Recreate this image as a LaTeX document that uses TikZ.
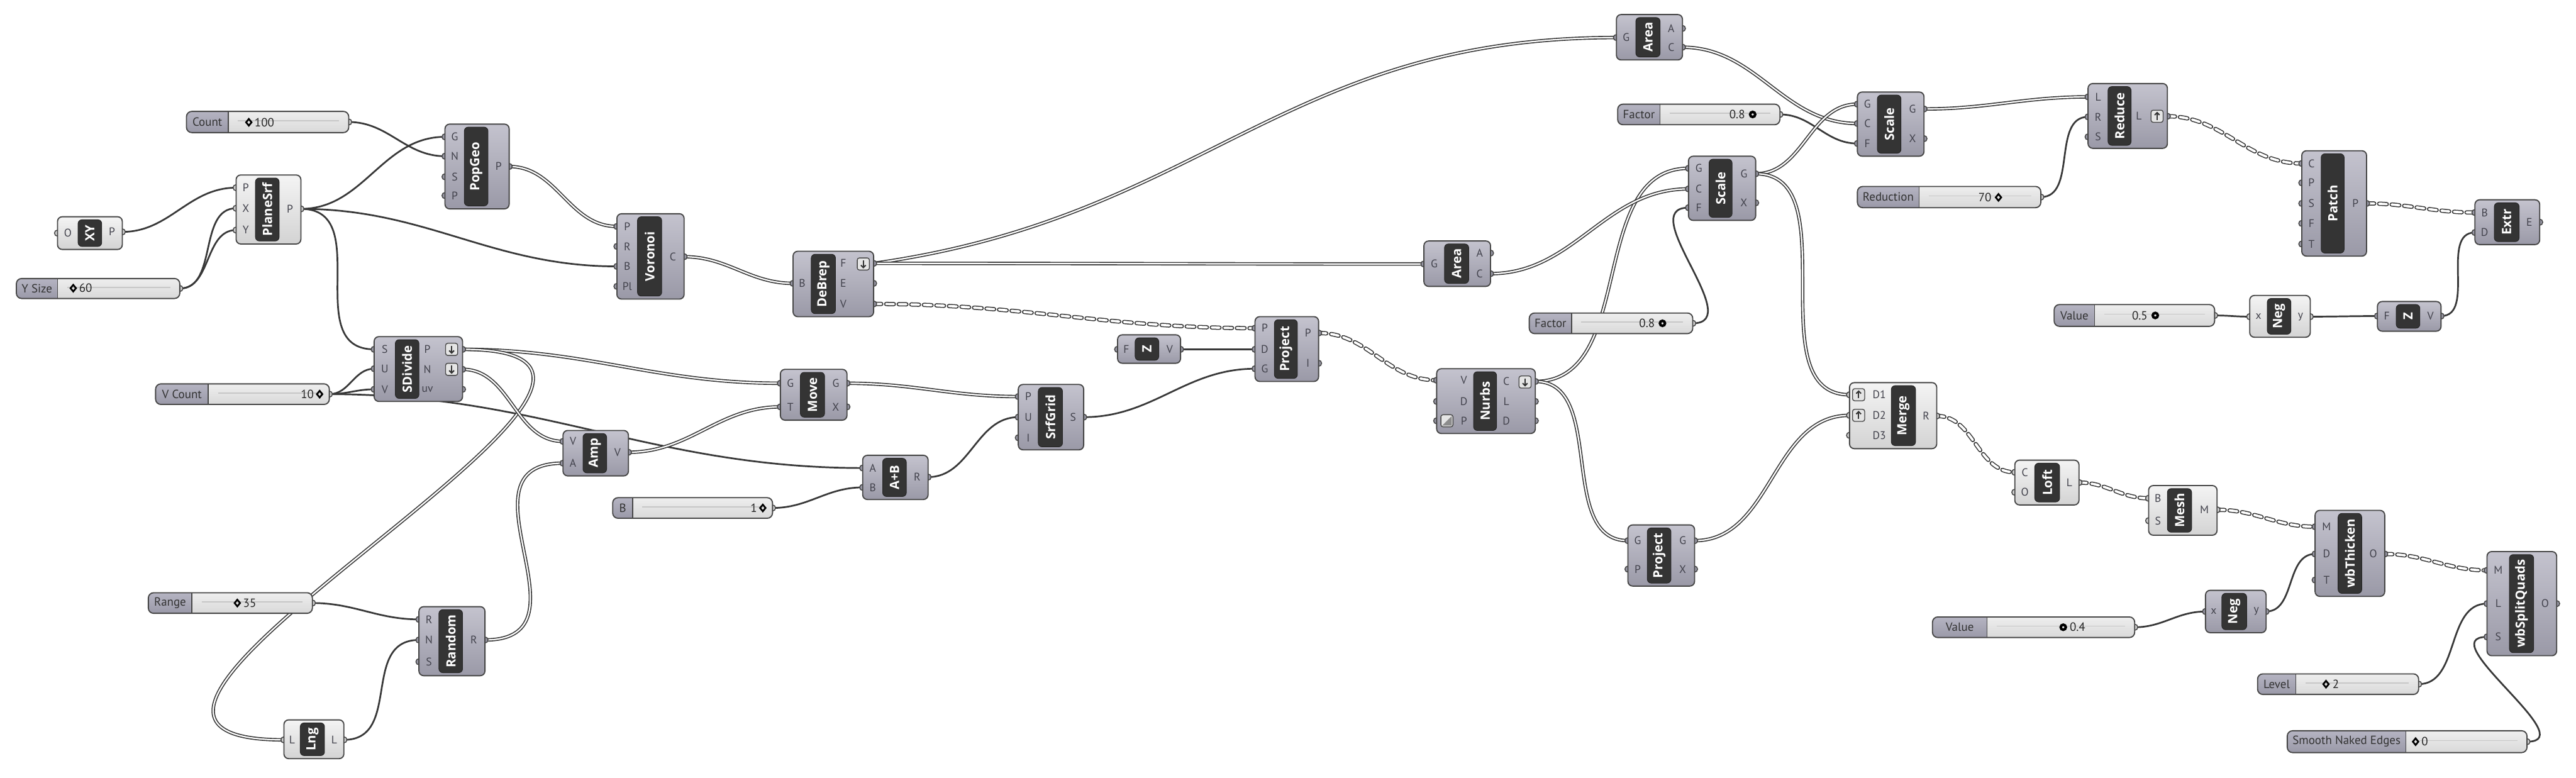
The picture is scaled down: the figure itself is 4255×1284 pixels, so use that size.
\documentclass[tikz,border=0pt]{standalone}
\usepackage{fontspec}
\setmainfont{PT Sans}
\newfontfamily\ghtitlefont{Open Sans}
\usetikzlibrary{fit}
\pgfdeclarelayer{bg}
\pgfdeclarelayer{wires}
\pgfdeclarelayer{stubs}
\pgfsetlayers{bg,wires,stubs,main}
\definecolor{wirecol}{HTML}{383838}
\definecolor{edgecol}{HTML}{474747}
\definecolor{darktop}{HTML}{C4C3CE}
\definecolor{darkbot}{HTML}{9A99A7}
\definecolor{lighttop}{HTML}{F4F4F4}
\definecolor{lightbot}{HTML}{D3D3D3}
\definecolor{barcol}{HTML}{343434}
\definecolor{portcol}{HTML}{42424C}
\definecolor{slabtop}{HTML}{B5B4C2}
\definecolor{slabbot}{HTML}{9A99A8}
\definecolor{svaltop}{HTML}{EEEEEE}
\definecolor{svalbot}{HTML}{D9D9D9}
\tikzset{
  body/.style={draw=edgecol, line width=0.55pt, rounded corners=2.2pt, inner sep=0pt, outer sep=0pt},
  darkbody/.style={body, top color=darktop, bottom color=darkbot},
  lightbody/.style={body, top color=lighttop, bottom color=lightbot},
  barbox/.style={fill=barcol, draw=black!85, line width=0.3pt, rounded corners=1.8pt, inner sep=0pt, outer sep=0pt},
  bartext/.style={text=white, font=\ghtitlefont\bfseries\fontsize{6}{6}\selectfont, rotate=90, inner sep=0pt},
  portlabel/.style={text=portcol, font=\fontsize{5.2}{5.5}\selectfont, inner sep=0pt},
  stubdark/.style={draw=edgecol, fill=darkbot, line width=0.45pt},
  stublight/.style={draw=edgecol, fill=lightbot, line width=0.45pt},
  wire/.style={draw=wirecol, line width=0.8pt},
  listwire/.style={draw=wirecol, line width=0.48pt, double=white, double distance=0.65pt},
  treewire/.style={draw=wirecol, line width=0.45pt, double=white, double distance=1.1pt, dash pattern=on 3.6pt off 2.3pt, line cap=round},
  sliderframe/.style={draw=edgecol, line width=0.55pt, rounded corners=2.5pt, inner sep=0pt, outer sep=0pt},
  slabel/.style={text=black!80, font=\fontsize{5.6}{6}\selectfont, inner sep=0pt},
  sval/.style={text=black!85, font=\fontsize{5.6}{6}\selectfont, inner sep=0pt},
  gripline/.style={draw=black, line width=0.8pt},
  iconbox/.style={draw=edgecol, line width=0.4pt, fill=white!90!black, rounded corners=1pt, minimum size=0.2cm, inner sep=0pt},
  iconarrow/.style={draw=black!80, line width=0.6pt},
}
% component: [style]{name}{x1}{y1}{x2}{y2}{barx1}{barx2}{title}
\newcommand\ghcomp[9][dark]{%
  \def\cn{#2}\def\cxl{#3}\def\cxr{#5}\def\cbl{#7}\def\cbr{#8}%
  \tikzset{curstub/.style={stub#1}}%
  \node[#1body, fit={(#3,#4) (#5,#6)}] (#2) {};%
  \node[barbox, fit={(#7,#4+5) (#8,#6-5)}] (#2-bar) {};%
  \node[bartext] (#2-title) at (#2-bar.center) {#9};%
}
\newcommand\inp[4][]{%
  \coordinate (\cn-#2) at (\cxl,#3);%
  \begin{pgfonlayer}{stubs}\draw[curstub] (\cxl,#3) circle[radius=0.05cm];\end{pgfonlayer}%
  \ifx\relax#1\relax\node[portlabel] (\cn-#2-lab) at ({(\cxl+\cbl)/2},#3) {#4};%
  \else\node[portlabel] (\cn-#2-lab) at (#1,#3) {#4};\fi}
\newcommand\outp[4][]{%
  \coordinate (\cn-#2) at (\cxr,#3);%
  \begin{pgfonlayer}{stubs}\draw[curstub] (\cxr,#3) circle[radius=0.05cm];\end{pgfonlayer}%
  \ifx\relax#1\relax\node[portlabel] (\cn-#2-lab) at ({(\cxr+\cbr)/2},#3) {#4};%
  \else\node[portlabel] (\cn-#2-lab) at (#1,#3) {#4};\fi}
% slider: {name}{x1}{y1}{x2}{y2}{split}{label}
\newcommand\ghslider[7]{%
  \begin{scope}
    \clip[rounded corners=2.5pt] (#2,#3) rectangle (#4,#5);
    \shade[top color=svaltop, bottom color=svalbot] (#2,#3) rectangle (#4,#5);
    \shade[top color=slabtop, bottom color=slabbot] (#2,#3) rectangle (#6,#5);
    \draw[black!22, line width=0.45pt] (#6+16,{(#3+#5)/2-2}) -- (#4-16,{(#3+#5)/2-2});
  \end{scope}
  \draw[edgecol, line width=0.4pt] (#6,#3) -- (#6,#5);
  \node[sliderframe, fit={(#2,#3) (#4,#5)}] (#1) {};
  \node[slabel] (#1-lab) at ({(#2+#6)/2},{(#3+#5)/2}) {#7};
  \coordinate (#1-o) at (#4,{(#3+#5)/2});
  \begin{pgfonlayer}{stubs}\draw[stublight] (#4,{(#3+#5)/2}) circle[radius=0.05cm];\end{pgfonlayer}%
}
\newcommand\gripd[2]{\draw[gripline] (#1-4.5,#2) -- (#1,#2-5.5) -- (#1+4.5,#2) -- (#1,#2+5.5) -- cycle;}
\newcommand\gripo[2]{\draw[gripline, line width=1.2pt] (#1,#2) circle[radius=0.042cm];}
\newcommand\icondown[3]{\node[iconbox] (#1) at (#2,#3) {};
  \draw[iconarrow] (#2,#3-6) -- (#2,#3+6); \draw[iconarrow] (#2-4,#3+2) -- (#2,#3+6) -- (#2+4,#3+2);}
\newcommand\iconup[3]{\node[iconbox] (#1) at (#2,#3) {};
  \draw[iconarrow] (#2,#3+6) -- (#2,#3-6); \draw[iconarrow] (#2-4,#3-2) -- (#2,#3-6) -- (#2+4,#3-2);}
\newcommand\icondiag[3]{\node[iconbox] (#1) at (#2,#3) {};
  \fill[black!45] (#2-8,#3+8) -- (#2+8,#3-8) -- (#2+8,#3+8) -- cycle;}
\begin{document}
\begin{tikzpicture}[x=0.01cm,y=-0.01cm]
\begin{pgfonlayer}{bg}
\fill[white] (0,0) rectangle (4255,1284);
\end{pgfonlayer}
\useasboundingbox (0,0) rectangle (4255,1284);

% ---------- sliders ----------
\ghslider{count}{308}{184}{576}{219}{377}{Count}
\gripd{411}{202}\node[sval,anchor=west] (count-val) at (420,202) {100};
\ghslider{ysize}{27}{460}{297}{493}{95}{Y Size}
\gripd{121}{476}\node[sval,anchor=west] (ysize-val) at (130,476) {60};
\ghslider{vcount}{257}{634}{544}{668}{344}{V Count}
\node[sval,anchor=east] (vcount-val) at (519,651) {10};\gripd{528}{651}
\ghslider{bsl}{1012}{822}{1276}{856}{1045}{B}
\node[sval,anchor=east] (bsl-val) at (1251,839) {1};\gripd{1260}{839}
\ghslider{range}{245}{979}{516}{1013}{317}{Range}
\gripd{392}{996}\node[sval,anchor=west] (range-val) at (401,996) {35};
\ghslider{factT}{2672}{172}{2940}{206}{2742}{Factor}
\node[sval,anchor=east] (factT-val) at (2883,189) {0.8};\gripo{2895}{189}
\ghslider{factM}{2526}{517}{2796}{551}{2596}{Factor}
\node[sval,anchor=east] (factM-val) at (2734,534) {0.8};\gripo{2746}{534}
\ghslider{redn}{3068}{308}{3371}{343}{3170}{Reduction}
\node[sval,anchor=east] (redn-val) at (3290,326) {70};\gripd{3301}{326}
\ghslider{valU}{3393}{503}{3658}{539}{3460}{Value}
\node[sval,anchor=east] (valU-val) at (3548,521) {0.5};\gripo{3560}{521}
\ghslider{valL}{3192}{1019}{3526}{1053}{3282}{Value}
\gripo{3408}{1036}\node[sval,anchor=west] (valL-val) at (3418,1036) {0.4};
\ghslider{level}{3729}{1113}{3995}{1147}{3792}{Level}
\gripd{3842}{1130}\node[sval,anchor=west] (level-val) at (3852,1130) {2};
\ghslider{smooth}{3778}{1207}{4174}{1243}{3974}{Smooth Naked Edges}
\gripd{3990}{1225}\node[sval,anchor=west] (smooth-val) at (3999,1225) {0};

% ---------- components ----------
\ghcomp[light]{xy}{95}{358}{202}{412}{129}{168}{XY}
\inp{iO}{385}{O}\outp{oP}{383}{P}

\ghcomp[light]{plane}{390}{289}{497}{403}{422}{461}{PlaneSrf}
\inp{iP}{310}{P}\inp{iX}{344}{X}\inp{iY}{380}{Y}\outp{oP}{345}{P}

\ghcomp{pop}{735}{205}{841}{345}{767}{806}{PopGeo}
\inp{iG}{226}{G}\inp{iN}{258}{N}\inp{iS}{292}{S}\inp{iP}{323}{P}\outp{oP}{275}{P}

\ghcomp{vor}{1019}{353}{1130}{494}{1053}{1093}{Voronoi}
\inp{iP}{374}{P}\inp{iR}{407}{R}\inp{iB}{440}{B}\inp{iPl}{473}{Pl}\outp{oC}{424}{C}

\ghcomp{deb}{1310}{415}{1443}{523}{1340}{1380}{DeBrep}
\inp{iB}{468}{B}\outp[1393]{oF}{435}{F}\outp[1393]{oE}{468}{E}\outp[1393]{oV}{502}{V}
\icondown{deb-icon}{1426}{436}

\ghcomp{sdiv}{618}{556}{764}{663}{653}{692}{SDivide}
\inp{iS}{577}{S}\inp{iU}{609}{U}\inp{iV}{643}{V}
\outp[706]{oP}{577}{P}\outp[706]{oN}{610}{N}\outp[706]{ouv}{643}{uv}
\icondown{sdiv-iconP}{746}{577}\icondown{sdiv-iconN}{746}{610}

\ghcomp{amp}{930}{711}{1038}{786}{963}{1002}{Amp}
\inp{iV}{729}{V}\inp{iA}{765}{A}\outp{oV}{747}{V}

\ghcomp{move}{1289}{610}{1399}{694}{1322}{1362}{Move}
\inp{iG}{633}{G}\inp{iT}{672}{T}\outp{oG}{633}{G}\outp{oX}{672}{X}

\ghcomp{add}{1425}{752}{1533}{825}{1458}{1497}{A+B}
\inp{iA}{773}{A}\inp{iB}{805}{B}\outp{oR}{788}{R}

\ghcomp{grid}{1682}{635}{1790}{743}{1715}{1755}{SrfGrid}
\inp{iP}{655}{P}\inp{iU}{689}{U}\inp{iI}{723}{I}\outp{oS}{689}{S}

\ghcomp{rand}{692}{1002}{801}{1116}{725}{764}{Random}
\inp{iR}{1023}{R}\inp{iN}{1057}{N}\inp{iS}{1093}{S}\outp{oR}{1057}{R}

\ghcomp[light]{lng}{469}{1189}{568}{1253}{496}{536}{Lng}
\inp{iL}{1222}{L}\outp{oL}{1222}{L}

\ghcomp{zone}{1846}{553}{1950}{600}{1875}{1914}{Z}
\inp{iF}{577}{F}\outp{oV}{577}{V}

\ghcomp{proj}{2073}{523}{2178}{630}{2105}{2143}{Project}
\inp{iP}{542}{P}\inp{iD}{577}{D}\inp{iG}{609}{G}\outp{oP}{550}{P}\outp{oI}{600}{I}

\ghcomp{nurbs}{2373}{609}{2536}{716}{2434}{2472}{Nurbs}
\inp[2418]{iV}{628}{V}\inp[2418]{iD}{663}{D}\inp[2418]{iP}{695}{P}
\outp[2488]{oC}{630}{C}\outp[2488]{oL}{663}{L}\outp[2488]{oD}{695}{D}
\icondown{nurbs-iconC}{2519}{631}\icondiag{nurbs-iconP}{2390}{695}

\ghcomp{areaT}{2670}{24}{2779}{99}{2702}{2742}{Area}
\inp{iG}{62}{G}\outp{oA}{47}{A}\outp{oC}{78}{C}

\ghcomp{areaM}{2352}{398}{2462}{473}{2386}{2426}{Area}
\inp{iG}{436}{G}\outp{oA}{418}{A}\outp{oC}{452}{C}

\ghcomp{scaleT}{3068}{152}{3178}{258}{3101}{3140}{Scale}
\inp{iG}{172}{G}\inp{iC}{204}{C}\inp{iF}{237}{F}\outp{oG}{180}{G}\outp{oX}{229}{X}

\ghcomp{scaleM}{2789}{258}{2900}{364}{2823}{2861}{Scale}
\inp{iG}{278}{G}\inp{iC}{312}{C}\inp{iF}{343}{F}\outp{oG}{287}{G}\outp{oX}{335}{X}

\ghcomp{projL}{2689}{867}{2799}{968}{2721}{2760}{Project}
\inp{iG}{893}{G}\inp{iP}{940}{P}\outp{oG}{893}{G}\outp{oX}{940}{X}

\ghcomp[light]{merge}{3055}{632}{3199}{741}{3124}{3164}{Merge}
\inp[3104]{iDa}{652}{D1}\inp[3104]{iDb}{686}{D2}\inp[3104]{iDc}{719}{D3}\outp{oR}{687}{R}
\iconup{merge-icon1}{3070}{652}\iconup{merge-icon2}{3070}{686}

\ghcomp[light]{loft}{3328}{760}{3434}{834}{3361}{3402}{Loft}
\inp{iC}{780}{C}\inp{iO}{813}{O}\outp{oL}{797}{L}

\ghcomp[light]{mesh}{3549}{802}{3662}{884}{3580}{3620}{Mesh}
\inp{iB}{823}{B}\inp{iS}{860}{S}\outp{oM}{842}{M}

\ghcomp{thick}{3824}{843}{3939}{985}{3862}{3901}{wbThicken}
\inp{iM}{870}{M}\inp{iD}{915}{D}\inp{iT}{958}{T}\outp{oO}{915}{O}

\ghcomp{split}{4108}{911}{4223}{1083}{4145}{4185}{wbSplitQuads}
\inp{iM}{942}{M}\inp{iL}{997}{L}\inp{iS}{1052}{S}\outp{oO}{997}{O}

\ghcomp{negL}{3643}{975}{3743}{1045}{3670}{3711}{Neg}
\inp{ix}{1010}{x}\outp{oy}{1010}{y}

\ghcomp{reduce}{3449}{138}{3580}{245}{3482}{3520}{Reduce}
\inp{iL}{160}{L}\inp{iR}{193}{R}\inp{iS}{226}{S}\outp[3533]{oL}{192}{L}
\iconup{reduce-icon}{3563}{192}

\ghcomp{patch}{3802}{249}{3909}{423}{3834}{3872}{Patch}
\inp{iC}{270}{C}\inp{iP}{302}{P}\inp{iS}{336}{S}\inp{iF}{369}{F}\inp{iT}{403}{T}\outp{oP}{336}{P}

\ghcomp{extr}{4088}{330}{4195}{404}{4120}{4161}{Extr}
\inp{iB}{351}{B}\inp{iD}{384}{D}\outp{oE}{367}{E}

\ghcomp[light]{negU}{3716}{488}{3816}{557}{3745}{3784}{Neg}
\inp{ix}{523}{x}\outp{oy}{523}{y}

\ghcomp{ztwo}{3927}{498}{4032}{547}{3958}{3997}{Z}
\inp{iF}{522}{F}\outp{oV}{522}{V}

% ---------- wires ----------
\begin{pgfonlayer}{wires}
\draw[wire] (count-o) to[out=0,in=180] (pop-iN);
\draw[wire] (plane-oP) to[out=0,in=180] (pop-iG);
\draw[wire] (xy-oP) to[out=0,in=180] (plane-iP);
\draw[wire] (ysize-o) to[out=0,in=180] (plane-iX);
\draw[wire] (ysize-o) to[out=0,in=180] (plane-iY);
\draw[wire] (plane-oP) to[out=0,in=180] (vor-iB);
\draw[wire] (plane-oP) to[out=0,in=180,looseness=1.2] (sdiv-iS);
\draw[wire] (vcount-o) to[out=0,in=180] (sdiv-iU);
\draw[wire] (vcount-o) to[out=0,in=180] (sdiv-iV);
\draw[wire] (vcount-o) to[out=0,in=180] (add-iA);
\draw[wire] (bsl-o) to[out=0,in=180] (add-iB);
\draw[wire] (add-oR) to[out=0,in=180] (grid-iU);
\draw[wire] (grid-oS) to[out=0,in=180] (proj-iG);
\draw[wire] (zone-oV) to[out=0,in=180] (proj-iD);
\draw[wire] (range-o) to[out=0,in=180] (rand-iR);
\draw[wire] (lng-oL) to[out=0,in=180,looseness=1.2] (rand-iN);
\draw[wire] (factT-o) to[out=0,in=180] (scaleT-iF);
\draw[wire] (factM-o) to[out=0,in=180,looseness=1.2] (scaleM-iF);
\draw[wire] (redn-o) to[out=0,in=180] (reduce-iR);
\draw[wire] (valU-o) to[out=0,in=180] (negU-ix);
\draw[wire] (negU-oy) to[out=0,in=180] (ztwo-iF);
\draw[wire] (ztwo-oV) to[out=0,in=180] (extr-iD);
\draw[wire] (valL-o) to[out=0,in=180] (negL-ix);
\draw[wire] (negL-oy) to[out=0,in=180] (thick-iD);
\draw[wire] (level-o) to[out=0,in=180] (split-iL);
\draw[wire] (smooth-o) to[out=0,in=180,looseness=1.3] (split-iS);

\draw[listwire] (pop-oP) to[out=0,in=180] (vor-iP);
\draw[listwire] (vor-oC) to[out=0,in=180] (deb-iB);
\draw[listwire] (deb-oF) to[out=8,in=180,looseness=1.1] (areaT-iG);
\draw[listwire] (deb-oF) to[out=0,in=180] (areaM-iG);
\draw[listwire] (sdiv-oP) to[out=0,in=180] (move-iG);
\draw[listwire] (sdiv-oP) to[out=0,in=180,looseness=1.8] (lng-iL);
\draw[listwire] (sdiv-oN) to[out=0,in=180] (amp-iV);
\draw[listwire] (rand-oR) to[out=0,in=180,looseness=1.5] (amp-iA);
\draw[listwire] (amp-oV) to[out=0,in=180] (move-iT);
\draw[listwire] (move-oG) to[out=0,in=180] (grid-iP);
\draw[listwire] (nurbs-oC) to[out=0,in=180] (scaleM-iG);
\draw[listwire] (nurbs-oC) to[out=0,in=180] (projL-iG);
\draw[listwire] (areaM-oC) to[out=0,in=180] (scaleM-iC);
\draw[listwire] (areaT-oC) to[out=0,in=180] (scaleT-iC);
\draw[listwire] (scaleM-oG) to[out=0,in=180] (scaleT-iG);
\draw[listwire] (scaleM-oG) to[out=0,in=180] (merge-iDa);
\draw[listwire] (scaleT-oG) to[out=0,in=180] (reduce-iL);
\draw[listwire] (projL-oG) to[out=0,in=180] (merge-iDb);

\draw[treewire] (deb-oV) to[out=0,in=180] (proj-iP);
\draw[treewire] (proj-oP) to[out=0,in=180] (nurbs-iV);
\draw[treewire] (reduce-oL) to[out=0,in=180] (patch-iC);
\draw[treewire] (patch-oP) to[out=0,in=180] (extr-iB);
\draw[treewire] (merge-oR) to[out=0,in=180] (loft-iC);
\draw[treewire] (loft-oL) to[out=0,in=180] (mesh-iB);
\draw[treewire] (mesh-oM) to[out=0,in=180] (thick-iM);
\draw[treewire] (thick-oO) to[out=0,in=180] (split-iM);
\end{pgfonlayer}
\end{tikzpicture}
\end{document}
